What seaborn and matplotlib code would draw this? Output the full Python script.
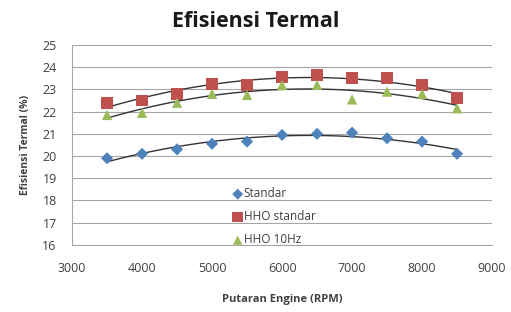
import numpy as np
import pandas as pd
import matplotlib
matplotlib.use("Agg")
import matplotlib.pyplot as plt
import seaborn as sns

# data
rpm = [3500, 4000, 4500, 5000, 5500, 6000, 6500, 7000, 7500, 8000, 8500]
standar = [19.9, 20.1, 20.3, 20.55, 20.65, 20.95, 21.0, 21.05, 20.8, 20.65, 20.1]
hho_standar = [22.4, 22.5, 22.8, 23.25, 23.2, 23.55, 23.65, 23.5, 23.5, 23.2, 22.6]
hho_10hz = [21.85, 21.95, 22.4, 22.8, 22.75, 23.2, 23.2, 22.55, 22.9, 22.8, 22.15]

series = {
    "Standar": (standar, "#4F81BD", "D", 38),
    "HHO standar": (hho_standar, "#C0504D", "s", 70),
    "HHO 10Hz": (hho_10hz, "#9BBB59", "^", 55),
}

sns.set_style("white")
plt.rcParams["font.family"] = ["Open Sans", "DejaVu Sans"]

fig = plt.figure(figsize=(5.11, 3.12), dpi=100)
ax = fig.add_axes([0.141, 0.215, 0.822, 0.641])

df = pd.DataFrame({"rpm": rpm})
for name, (vals, color, marker, size) in series.items():
    df[name] = vals
    # order-2 trendline, like the spreadsheet polynomial fit
    sns.regplot(data=df, x="rpm", y=name, order=2, ci=None, scatter=False,
                ax=ax, line_kws={"color": "#333333", "lw": 1.0, "zorder": 2})
    sns.scatterplot(data=df, x="rpm", y=name, color=color, marker=marker,
                    s=size, edgecolor="none", ax=ax, label=name, zorder=3)

ax.set_xlim(3000, 9000)
ax.set_ylim(16, 25)
ax.set_xticks(range(3000, 9001, 1000))
ax.set_yticks(range(16, 26))
ax.tick_params(axis="both", labelsize=9, colors="#404040", length=0)
ax.tick_params(axis="x", pad=12)
ax.tick_params(axis="y", pad=11)
ax.yaxis.grid(True, color="#A6A6A6", lw=0.8)
ax.set_axisbelow(True)
for side in ["top", "right"]:
    ax.spines[side].set_visible(False)
for side in ["left", "bottom"]:
    ax.spines[side].set_color("#A6A6A6")

ax.set_xlabel("Putaran Engine (RPM)", fontsize=8, fontweight="bold",
              color="#404040", labelpad=14)
ax.set_ylabel("Efisiensi Termal (%)", fontsize=7.5, fontweight="bold",
              color="#404040", labelpad=8)
fig.suptitle("Efisiensi Termal", fontsize=15.5, fontweight="bold",
             color="#1a1a1a", y=0.965)

ax.legend(loc="lower left", bbox_to_anchor=(0.355, -0.06), frameon=False,
          fontsize=8.5, handletextpad=0.0, labelspacing=0.85,
          handlelength=1.0, markerscale=0.9, labelcolor="#404040")

fig.savefig("out.png", dpi=100)
plt.close(fig)
